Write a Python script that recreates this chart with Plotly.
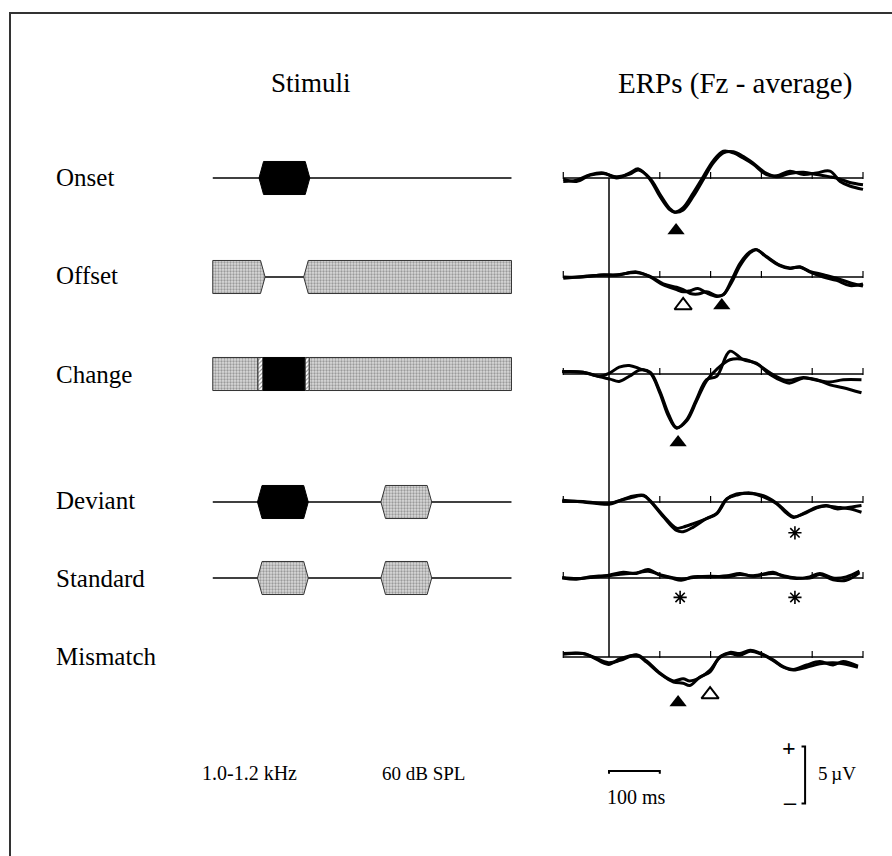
import plotly.graph_objects as go

W, H = 892, 856
PX_PER_MS = 0.508
PX_PER_UV = 11.4

# ---------------- data ----------------
ROW_NAMES = ["Onset", "Offset", "Change", "Deviant", "Standard", "Mismatch"]

onset_t = [-90, -64, -37, -11, 15, 41, 58, 81, 100, 120, 130, 146, 166, 186, 205, 225, 245, 264, 284, 310, 330, 356, 383, 409, 435, 455, 474, 500]
onset_a = [-0.3, -0.2, 0.3, 0.45, 0.0, 0.45, 0.8, -0.15, -1.6, -2.8, -3.0, -2.6, -1.3, 0.15, 1.5, 2.35, 2.2, 1.75, 1.2, 0.3, 0.2, 0.6, 0.3, 0.45, 0.6, -0.3, -0.7, -1.0]
onset_b = [-0.1, -0.3, 0.25, 0.4, 0.1, 0.35, 0.7, -0.05, -1.4, -2.7, -3.0, -2.8, -1.6, -0.1, 1.3, 2.2, 2.3, 1.9, 1.3, 0.4, 0.1, 0.4, 0.5, 0.3, 0.1, -0.1, -0.4, -0.6]

offset_t = [-90, -51, -11, 15, 54, 81, 107, 133, 146, 160, 175, 192, 212, 225, 241, 258, 277, 290, 310, 336, 356, 376, 395, 422, 448, 474, 500]
offset_a = [0, 0, 0.2, 0.15, 0.45, 0, -0.7, -1.1, -1.3, -1.2, -1.0, -1.4, -1.7, -1.55, -0.3, 1.2, 2.2, 2.4, 1.75, 1.0, 0.75, 0.9, 0.45, 0, -0.3, -0.75, -0.6]
offset_b = [-0.1, 0.05, 0.15, 0.2, 0.4, 0.05, -0.6, -0.9, -1.1, -1.45, -1.5, -1.3, -1.65, -1.55, -0.5, 1.0, 2.1, 2.4, 1.8, 1.05, 0.8, 0.85, 0.5, 0.2, -0.1, -0.5, -0.8]

change_t = [-92, -51, -18, 2, 20, 40, 61, 81, 100, 117, 133, 153, 172, 192, 212, 238, 264, 290, 317, 343, 356, 383, 409, 435, 461, 497]
change_a = [0.23, 0.15, -0.2, 0.1, 0.6, 0.75, 0.45, 0.1, -1.65, -3.7, -4.75, -4.0, -2.25, -0.5, -0.2, 2.0, 1.25, 0.95, -0.05, -0.65, -0.8, -0.35, -0.5, -0.95, -1.2, -1.65]
change_b = [0.2, 0.15, -0.25, -0.45, -0.65, -0.2, 0.35, 0.15, -1.5, -3.5, -4.7, -4.1, -2.4, -0.6, 0.4, 1.25, 1.3, 0.9, 0.1, -0.5, -0.55, -0.3, -0.55, -0.7, -0.5, -0.5]

deviant_t = [-92, -51, 0, 15, 41, 68, 81, 107, 133, 146, 166, 192, 212, 232, 251, 277, 304, 330, 350, 363, 383, 409, 428, 448, 474, 497]
deviant_a = [0.15, 0, -0.2, 0, 0.45, 0.6, 0.1, -1.3, -2.5, -2.6, -2.2, -1.45, -1.0, 0.3, 0.6, 0.8, 0.45, -0.15, -1.0, -1.35, -1.0, -0.45, -0.3, -0.6, -0.45, -0.3]
deviant_b = [0.05, 0.05, -0.15, 0.05, 0.35, 0.55, 0.1, -1.2, -2.3, -2.2, -1.9, -1.45, -1.05, 0.25, 0.7, 0.75, 0.55, -0.1, -0.9, -1.3, -1.05, -0.5, -0.35, -0.45, -0.6, -0.9]

standard_t = [-92, -64, -37, 0, 28, 54, 77, 100, 123, 142, 166, 199, 232, 258, 284, 323, 343, 369, 395, 415, 441, 467, 493]
standard_a = [0, -0.1, 0.1, 0.25, 0.5, 0.4, 0.75, 0.25, 0, -0.2, 0.1, 0.1, 0.2, 0.4, 0.15, 0.5, 0.15, -0.05, 0.1, 0.4, 0, 0.1, 0.6]
standard_b = [0.05, -0.05, 0.05, 0.2, 0.35, 0.45, 0.6, 0.3, 0.05, -0.1, 0.05, 0.15, 0.1, 0.3, 0.2, 0.4, 0.2, 0.0, 0.0, 0.3, -0.15, -0.2, 0.45]

mismatch_t = [-90, -51, -31, -1, 22, 54, 74, 100, 127, 146, 159, 179, 199, 218, 238, 258, 278, 297, 323, 343, 363, 389, 415, 441, 461, 490]
mismatch_a = [0.3, 0.3, -0.05, -0.65, -0.15, 0.15, -0.45, -1.45, -2.2, -2.3, -2.5, -1.75, -1.3, 0, 0.3, 0.15, 0.5, 0.3, -0.3, -0.9, -1.15, -0.9, -0.6, -0.5, -0.6, -0.9]
mismatch_b = [0.25, 0.3, 0.0, -0.5, -0.3, 0.2, -0.35, -1.4, -2.1, -1.9, -2.1, -1.8, -1.15, -0.05, 0.4, 0.3, 0.6, 0.35, -0.25, -0.85, -1.1, -0.7, -0.4, -0.7, -0.4, -0.8]

ERP_T = [onset_t, offset_t, change_t, deviant_t, standard_t, mismatch_t]
ERP_A = [onset_a, offset_a, change_a, deviant_a, standard_a, mismatch_a]
ERP_B = [onset_b, offset_b, change_b, deviant_b, standard_b, mismatch_b]

ERP_T_START, ERP_T_END = -90, 500
ERP_TICKS_MS = [-90, 100, 200, 300, 400, 500]

# stimulus segments (ms): start, end, kind, ramp at start, ramp at end
STIM_T_START, STIM_T_END = -91, 497
onset_stim_start = [0]
onset_stim_end = [100]
onset_stim_kind = ["black"]
onset_stim_ramp_l = [True]
onset_stim_ramp_r = [True]

offset_stim_start = [-91, 88]
offset_stim_end = [12, 497]
offset_stim_kind = ["gray", "gray"]
offset_stim_ramp_l = [False, True]
offset_stim_ramp_r = [True, False]

change_stim_start = [-91, -2, 8, 91, 99]
change_stim_end = [-2, 8, 91, 99, 497]
change_stim_kind = ["gray", "hatch", "black", "hatch", "gray"]
change_stim_ramp_l = [False] * 5
change_stim_ramp_r = [False] * 5

deviant_stim_start = [-3, 240]
deviant_stim_end = [97, 340]
deviant_stim_kind = ["black", "gray"]
deviant_stim_ramp_l = [True, True]
deviant_stim_ramp_r = [True, True]

standard_stim_start = [-3, 240]
standard_stim_end = [97, 340]
standard_stim_kind = ["gray", "gray"]
standard_stim_ramp_l = [True, True]
standard_stim_ramp_r = [True, True]

STIM_ROWS = [
    (onset_stim_start, onset_stim_end, onset_stim_kind, onset_stim_ramp_l, onset_stim_ramp_r, True),
    (offset_stim_start, offset_stim_end, offset_stim_kind, offset_stim_ramp_l, offset_stim_ramp_r, True),
    (change_stim_start, change_stim_end, change_stim_kind, change_stim_ramp_l, change_stim_ramp_r, False),
    (deviant_stim_start, deviant_stim_end, deviant_stim_kind, deviant_stim_ramp_l, deviant_stim_ramp_r, True),
    (standard_stim_start, standard_stim_end, standard_stim_kind, standard_stim_ramp_l, standard_stim_ramp_r, True),
]

# peak markers
MARK_ROW = [0, 1, 1, 2, 3, 4, 4, 5, 5]
MARK_T = [132, 146, 222, 136, 366, 140, 366, 136, 199]
MARK_UV = [-4.6, -2.5, -2.5, -6.0, -2.7, -1.7, -1.7, -4.0, -3.3]
MARK_SYMBOL = ["triangle-up", "triangle-up-open", "triangle-up", "triangle-up", "asterisk",
               "asterisk", "asterisk", "triangle-up", "triangle-up-open"]

SCALE_MS = 100
SCALE_UV = 5

# ---------------- layout geometry (pixels) ----------------
ROW_BASE_PX = [178, 277, 374, 502, 578, 657]
SCALE_BASE_PX = 775
ROW_LABEL_PX = [178, 275, 374, 500, 578, 656]
ERP_X0_PX, ERP_X1_PX, ERP_ZERO_PX = 555, 872, 609
STIM_X0_PX, STIM_X1_PX, STIM_ZERO_PX = 211, 514, 259
STIM_HALF = 1.45   # half-height of stimulus boxes (row units)
RAMP_MS = 9

def pyp(py):
    return 1 - py / H

def pxp(px):
    return px / W

fig = go.Figure()

# ERP baselines + ticks + waveforms
for i in range(6):
    ya = "y" if i == 0 else "y%d" % (i + 1)
    fig.add_trace(go.Scatter(x=[ERP_T_START, ERP_T_END], y=[0, 0], mode="lines",
                             line=dict(color="black", width=1.5), xaxis="x", yaxis=ya,
                             hoverinfo="skip", showlegend=False))
    fig.add_trace(go.Scatter(x=ERP_TICKS_MS, y=[0.22] * len(ERP_TICKS_MS), mode="markers",
                             marker=dict(symbol="line-ns", size=5, line=dict(color="black", width=1.2)),
                             xaxis="x", yaxis=ya, hoverinfo="skip", showlegend=False))
    for ser in (ERP_A[i], ERP_B[i]):
        fig.add_trace(go.Scatter(x=ERP_T[i], y=ser, mode="lines",
                                 line=dict(color="black", width=3, shape="spline", smoothing=1.0),
                                 xaxis="x", yaxis=ya, showlegend=False))

# Stimuli
def poly(t0, t1, rl, rr):
    h = STIM_HALF
    xs, ys = [], []
    if rl:
        xs += [t0, t0 + RAMP_MS]
        ys += [0, h]
    else:
        xs += [t0, t0]
        ys += [-h, h]
    if rr:
        xs += [t1 - RAMP_MS, t1, t1 - RAMP_MS]
        ys += [h, 0, -h]
    else:
        xs += [t1, t1]
        ys += [h, -h]
    if rl:
        xs += [t0 + RAMP_MS, t0]
        ys += [-h, 0]
    else:
        xs += [t0]
        ys += [-h]
    return xs, ys

for i, (st, en, kind, rl, rr, has_line) in enumerate(STIM_ROWS):
    ya = "y" if i == 0 else "y%d" % (i + 1)
    if has_line:
        fig.add_trace(go.Scatter(x=[STIM_T_START, STIM_T_END], y=[0, 0], mode="lines",
                                 line=dict(color="black", width=1.3), xaxis="x2", yaxis=ya,
                                 hoverinfo="skip", showlegend=False))
    for j in range(len(st)):
        xs, ys = poly(st[j], en[j], rl[j], rr[j])
        k = kind[j]
        kw = dict(x=xs, y=ys, mode="lines", fill="toself", xaxis="x2", yaxis=ya,
                  hoverinfo="skip", showlegend=False)
        if k == "black":
            kw.update(fillcolor="black", line=dict(color="black", width=1))
        elif k == "gray":
            kw.update(fillcolor="#cfcfcf", line=dict(color="#333333", width=1),
                      fillpattern=dict(shape=".", bgcolor="#dadada", fgcolor="#5a5a5a",
                                       size=3, solidity=0.45))
        else:
            kw.update(fillcolor="white", line=dict(color="#333333", width=1),
                      fillpattern=dict(shape="/", bgcolor="white", fgcolor="#222222",
                                       size=3, solidity=0.35))
        fig.add_trace(go.Scatter(**kw))

# markers
for r, t, v, s in zip(MARK_ROW, MARK_T, MARK_UV, MARK_SYMBOL):
    ya = "y" if r == 0 else "y%d" % (r + 1)
    if s == "asterisk":
        mk = dict(symbol="asterisk", size=11, line=dict(color="black", width=1.6))
    elif s.endswith("open"):
        mk = dict(symbol=s, size=15, color="black", line=dict(color="black", width=2))
    else:
        mk = dict(symbol=s, size=15, color="black", line=dict(color="black", width=0))
    fig.add_trace(go.Scatter(x=[t], y=[v], mode="markers", marker=mk, xaxis="x", yaxis=ya,
                             hoverinfo="skip", showlegend=False, cliponaxis=False))

# scale bars (row 7 axis)
fig.add_trace(go.Scatter(x=[0, 0, SCALE_MS, SCALE_MS], y=[0.12, 0.35, 0.35, 0.12], mode="lines",
                         line=dict(color="black", width=2), xaxis="x", yaxis="y7",
                         hoverinfo="skip", showlegend=False))
BRACKET_T = 386
fig.add_trace(go.Scatter(x=[BRACKET_T - 7, BRACKET_T, BRACKET_T, BRACKET_T - 7],
                         y=[SCALE_UV / 2, SCALE_UV / 2, -SCALE_UV / 2, -SCALE_UV / 2], mode="lines",
                         line=dict(color="black", width=2), xaxis="x", yaxis="y7",
                         hoverinfo="skip", showlegend=False))

# ---------------- layout ----------------
ax_off = dict(visible=False, showgrid=False, zeroline=False, fixedrange=True)
layout = dict(
    width=W, height=H, margin=dict(l=0, r=0, t=0, b=0),
    paper_bgcolor="white", plot_bgcolor="rgba(0,0,0,0)",
    xaxis=dict(ax_off, domain=[pxp(ERP_X0_PX), pxp(ERP_X1_PX)], anchor="y",
               range=[(ERP_X0_PX - ERP_ZERO_PX) / PX_PER_MS, (ERP_X1_PX - ERP_ZERO_PX) / PX_PER_MS]),
    xaxis2=dict(ax_off, domain=[pxp(STIM_X0_PX), pxp(STIM_X1_PX)], anchor="y",
                range=[(STIM_X0_PX - STIM_ZERO_PX) / PX_PER_MS, (STIM_X1_PX - STIM_ZERO_PX) / PX_PER_MS]),
)
for i, b in enumerate(ROW_BASE_PX + [SCALE_BASE_PX]):
    key = "yaxis" if i == 0 else "yaxis%d" % (i + 1)
    layout[key] = dict(ax_off, domain=[0, 1], anchor="x",
                       range=[-(H - b) / PX_PER_UV, b / PX_PER_UV])
fig.update_layout(**layout)

serif = "Liberation Serif, Times New Roman, serif"

def txt(text, x, y, size, xref="paper", yref="paper", xanchor="center"):
    return dict(text=text, x=x, y=y, xref=xref, yref=yref, xanchor=xanchor, yanchor="middle",
                showarrow=False, font=dict(family=serif, size=size, color="black"))

ann = []
ann.append(txt("Stimuli", pxp(311), pyp(83), 27))
ann.append(txt("ERPs (Fz - average)", pxp(735), pyp(83), 29))
for name, py in zip(ROW_NAMES, ROW_LABEL_PX):
    ann.append(txt(name, pxp(54), pyp(py), 25, xanchor="left"))
ann.append(txt("1.0-1.2 kHz", pxp(250), pyp(773), 20))
ann.append(txt("60 dB SPL", pxp(423), pyp(773), 19))
ann.append(txt("100 ms", SCALE_MS / 2 + 4, -1.95, 20, xref="x", yref="y7"))
ann.append(txt("5\u2009µV", BRACKET_T + 22, 0.1, 19, xref="x", yref="y7", xanchor="left"))
ann.append(txt("<b>+</b>", BRACKET_T - 32, SCALE_UV / 2 - 0.1, 24, xref="x", yref="y7"))
ann.append(txt("<b>\u2013</b>", BRACKET_T - 30, -SCALE_UV / 2 + 0.15, 24, xref="x", yref="y7"))
fig.update_layout(annotations=ann)

shapes = [
    dict(type="line", xref="x", yref="paper", x0=0, x1=0,
         y0=pyp(ROW_BASE_PX[0]), y1=pyp(ROW_BASE_PX[-1]), line=dict(color="black", width=1.5)),
    dict(type="rect", xref="paper", yref="paper", x0=pxp(10), y0=pyp(13), x1=1.05, y1=-0.05,
         line=dict(color="#333333", width=2)),
]
fig.update_layout(shapes=shapes)

fig.write_html("out.html", config={"displayModeBar": False},
               post_script="document.body.style.margin='0px';")
